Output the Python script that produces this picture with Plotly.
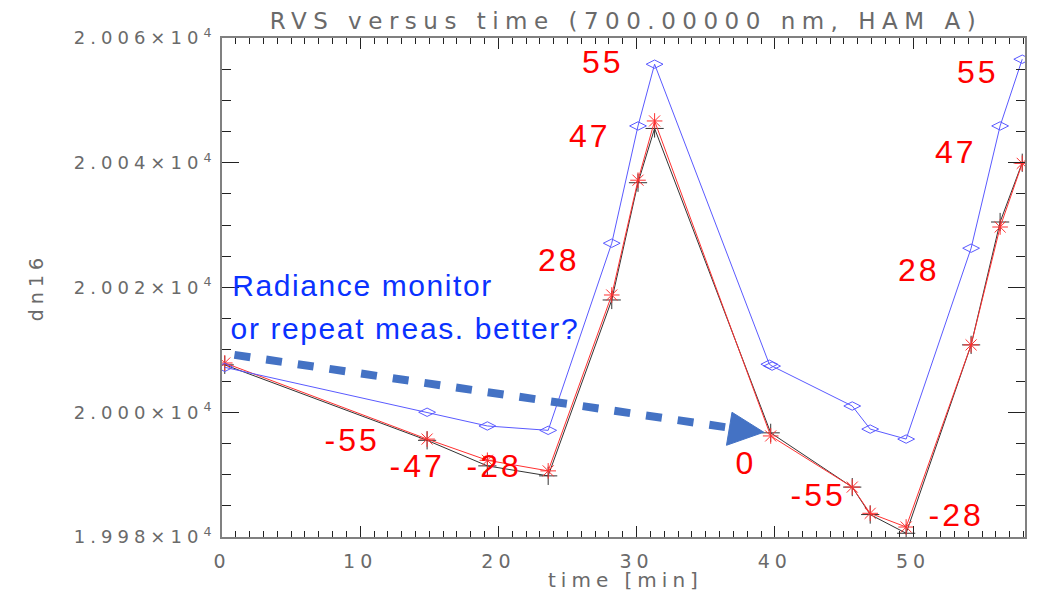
import plotly.graph_objects as go

# ---- data (time in minutes, signal in dn16) ----
time_blue = [0.2, 14.84, 19.2, 23.6, 28.2, 30.1, 31.3, 39.6, 39.8, 45.6, 46.9, 49.5, 54.2, 56.3, 57.9]
dn_blue = [20007.2, 20000.0, 19997.8, 19997.1, 20027.1, 20045.9, 20055.8, 20007.7, 20007.4, 20001.0, 19997.3, 19995.7, 20026.3, 20045.9, 20056.6]

time_red = [0.2, 14.84, 19.2, 23.6, 28.2, 30.1, 31.3, 39.7, 45.6, 46.9, 49.5, 54.2, 56.3, 57.9]
dn_red = [20007.9, 19995.7, 19992.3, 19990.6, 20018.8, 20037.2, 20046.7, 19996.2, 19988.0, 19983.8, 19981.6, 20010.8, 20029.7, 20039.9]

time_black = [0.2, 14.84, 19.2, 23.6, 28.2, 30.1, 31.3, 39.7, 45.6, 46.9, 49.5, 54.2, 56.3, 57.9]
dn_black = [20007.6, 19995.5, 19991.4, 19989.8, 20018.0, 20036.8, 20045.5, 19996.7, 19988.0, 19983.6, 19980.6, 20010.8, 20030.5, 20040.0]

y_tickvals = [19980, 20000, 20020, 20040, 20060]
y_ticktext = ["1.998×10<sup>4</sup>", "2.000×10<sup>4</sup>", "2.002×10<sup>4</sup>",
              "2.004×10<sup>4</sup>", "2.006×10<sup>4</sup>"]
x_tickvals = [0, 10, 20, 30, 40, 50]
x_ticktext = ["0", "10", "20", "30", "40", "50"]

# angle labels (text, x, y) in data coordinates
angle_labels = ["55", "47", "28", "0", "-55", "-47", "-28", "0", "-55", "-47", "-28", "55", "47", "28"]
angle_x = [27.6, 26.6, 24.4, -2.2, 9.4, 14.1, 19.7, 37.9, 43.1, 45.5, 53.1, 54.7, 53.1, 50.4]
angle_y = [20056.1, 20044.3, 20024.4, 20009.5, 19995.5, 19991.4, 19991.4, 19991.9, 19986.7, 19978.7, 19983.5, 20054.5, 20041.7, 20022.8]

GRAY = "#6a6a6a"
AXFONT = "DejaVu Sans"

fig = go.Figure()
fig.add_trace(go.Scatter(x=time_black, y=dn_black, mode="lines+markers",
                         line=dict(color="#333333", width=1),
                         marker=dict(symbol="cross-thin-open", size=13,
                                     line=dict(color="#111111", width=1)),
                         showlegend=False))
fig.add_trace(go.Scatter(x=time_red, y=dn_red, mode="lines+markers",
                         line=dict(color="#ff3030", width=1),
                         marker=dict(symbol="asterisk-open", size=13,
                                     line=dict(color="#ff2020", width=1)),
                         showlegend=False))
fig.add_trace(go.Scatter(x=time_blue, y=dn_blue, mode="lines+markers",
                         line=dict(color="#5a5aff", width=1),
                         marker=dict(symbol="diamond-wide-open", size=12,
                                     line=dict(color="#4a4aff", width=1)),
                         showlegend=False))

annotations = []
for t, ax, ay in zip(angle_labels, angle_x, angle_y):
    annotations.append(dict(x=ax, y=ay, xref="x", yref="y", text=t, showarrow=False,
                            font=dict(family="Liberation Sans", size=32, color="#ff0000"),
                            xanchor="center", yanchor="middle"))

annotations += [
    dict(x=0.0262, y=(537 - 285) / 499, xref="paper", yref="paper", text="Radiance monitor",
         showarrow=False, xanchor="left", yanchor="middle",
         font=dict(family="Liberation Sans", size=30, color="#0a32ff")),
    dict(x=0.0312, y=(537 - 328) / 499, xref="paper", yref="paper", text="or repeat meas. better?",
         showarrow=False, xanchor="left", yanchor="middle",
         font=dict(family="Liberation Sans", size=30, color="#0a32ff")),
    dict(x=0.503, y=1.035, xref="paper", yref="paper", text="RVS versus time (700.00000 nm, HAM A)",
         showarrow=False, xanchor="center", yanchor="middle",
         font=dict(family=AXFONT, size=23, color=GRAY)),
    dict(x=0.503, y=-0.086, xref="paper", yref="paper", text="time [min]",
         showarrow=False, xanchor="center", yanchor="middle",
         font=dict(family=AXFONT, size=20, color=GRAY)),
    dict(x=-0.232, y=0.5, xref="paper", yref="paper", text="dn16", textangle=-90,
         showarrow=False, xanchor="center", yanchor="middle",
         font=dict(family=AXFONT, size=19, color=GRAY)),
]

shapes = [
    dict(type="line", xref="x", yref="y", x0=0.9, y0=20009.2, x1=36.75, y1=19997.5,
         line=dict(color="#4472C4", width=8, dash="16px,16px"), layer="above"),
    dict(type="path", xref="x", yref="y",
         path="M 36.9,20000.0 L 36.5,19994.7 L 39.2,19996.8 Z",
         fillcolor="#4472C4", line=dict(color="#4472C4", width=1), layer="above"),
    dict(type="line", xref="paper", yref="paper", x0=1.0137, x1=1.0137, y0=0.79, y1=0.89,
         line=dict(color="#222222", width=2)),
]

fig.update_layout(
    width=1043, height=598,
    # the page body has an 8px margin, so margins are reduced by 8 on top/left
    margin=dict(l=214, r=26, t=30, b=69),
    plot_bgcolor="white", paper_bgcolor="white",
    annotations=annotations, shapes=shapes,
    xaxis=dict(range=[0, 58.1], tickvals=x_tickvals, ticktext=x_ticktext,
               showgrid=False, zeroline=False, showline=True, linecolor="#808080", linewidth=2,
               mirror="ticks", ticks="inside", ticklen=11, tickwidth=1, tickcolor="#222222",
               ticklabelstandoff=6,
               tickfont=dict(family=AXFONT, size=19, color=GRAY),
               minor=dict(dtick=1, tick0=0, ticks="inside", ticklen=6, tickcolor="#222222", tickwidth=1)),
    yaxis=dict(range=[19980, 20060], tickvals=y_tickvals, ticktext=y_ticktext,
               showgrid=False, zeroline=False, showline=True, linecolor="#808080", linewidth=2,
               mirror="ticks", ticks="inside", ticklen=17, tickwidth=1, tickcolor="#222222",
               ticklabelstandoff=0,
               tickfont=dict(family=AXFONT, size=18, color=GRAY),
               minor=dict(dtick=5, tick0=0, ticks="inside", ticklen=9, tickcolor="#222222", tickwidth=1)),
)

# widen letter spacing to mimic the horizontally stretched look of the original
post = """
function widen(){
  document.querySelectorAll('text').forEach(function(t){
    var f = (t.style.fill || '').replace(/\\s/g,'');
    var s = parseFloat(t.style.fontSize || '0');
    if (f === 'rgb(106,106,106)') { t.style.letterSpacing = (s >= 23 ? '6.5px' : '5px'); }
    else if (f === 'rgb(255,0,0)') { t.style.letterSpacing = '3px'; }
    else if (f === 'rgb(10,50,255)') { t.style.letterSpacing = '1.6px'; }
  });
}
widen();
"""
fig.write_html("out.html", post_script=post)
